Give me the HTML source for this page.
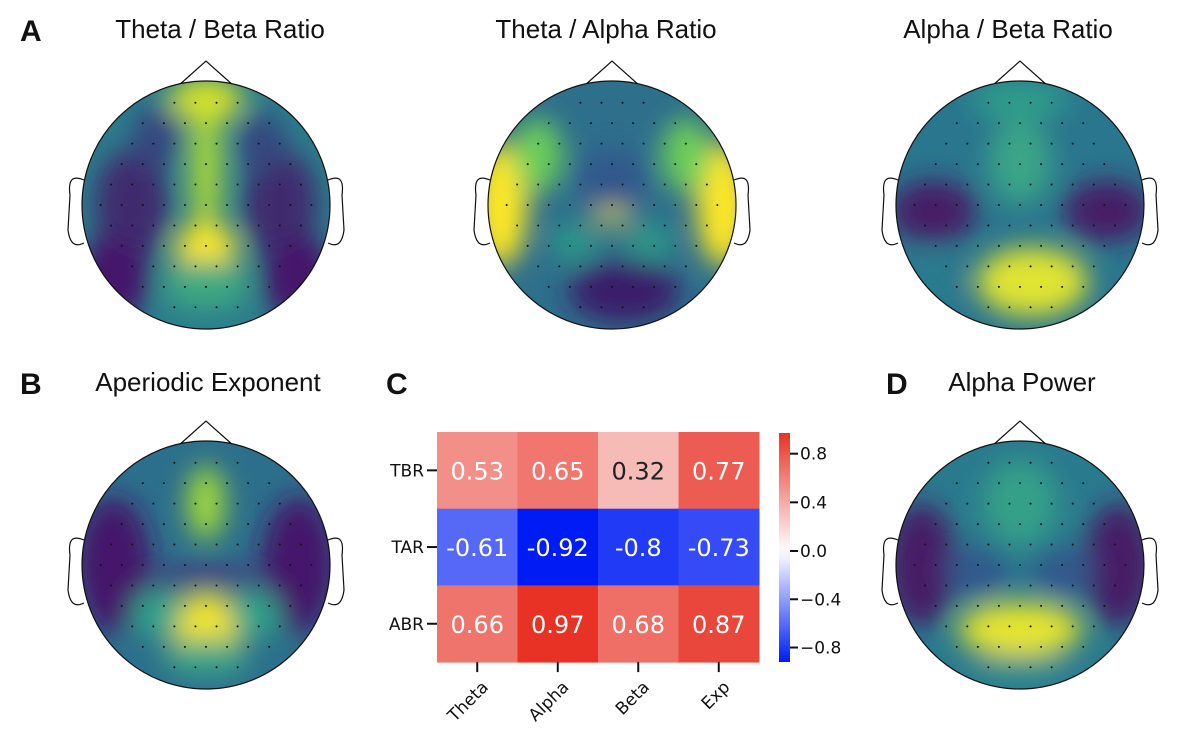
<!DOCTYPE html>
<html><head><meta charset="utf-8">
<style>
body{margin:0;background:#fff;width:1200px;height:735px;overflow:hidden;font-family:"Liberation Sans","DejaVu Sans",sans-serif}
.lbl{position:absolute;font-weight:bold;font-size:30px;color:#111}
.ttl{position:absolute;font-size:26px;color:#111;white-space:nowrap;transform:translateX(-50%)}
svg{position:absolute;left:0;top:0}
</style></head><body>
<div class="lbl" style="left:20px;top:15px">A</div>
<div class="ttl" style="left:220px;top:14px">Theta / Beta Ratio</div>
<div class="ttl" style="left:606px;top:14px">Theta / Alpha Ratio</div>
<div class="ttl" style="left:1008px;top:14px">Alpha / Beta Ratio</div>
<div class="lbl" style="left:20px;top:368px">B</div>
<div class="ttl" style="left:208px;top:367px">Aperiodic Exponent</div>
<div class="lbl" style="left:386px;top:368px">C</div>
<div class="lbl" style="left:886px;top:368px">D</div>
<div class="ttl" style="left:1022px;top:367px">Alpha Power</div>
<svg id="s" width="1200" height="735">
<defs><filter id="bl" x="-50%" y="-50%" width="200%" height="200%"><feGaussianBlur stdDeviation="13"/></filter></defs>
</svg>
<script>
const rowLabels=["TBR","TAR","ABR"];
const colLabels=["Theta","Alpha","Beta","Exp"];
const rowTBR=[0.53,0.65,0.32,0.77];
const rowTAR=[-0.61,-0.92,-0.8,-0.73];
const rowABR=[0.66,0.97,0.68,0.87];
const cbTicks=[0.8,0.4,0.0,-0.4,-0.8];
const vmin=-0.92, vmax=0.97;
const NS="http://www.w3.org/2000/svg";
const s=document.getElementById('s');
function mk(tag,attrs,parent){const e=document.createElementNS(NS,tag);for(const k in attrs)e.setAttribute(k,attrs[k]);(parent||s).appendChild(e);return e;}
const heads=[
 {name:'tbr',cx:206,cy:205,base:'#2b7d8c',blobs:[[-0.6,0,0.3,0.45,'#3f2a6e'],[0.6,0,0.3,0.45,'#3f2a6e'],[-0.75,0.6,0.3,0.35,'#44196a'],[0.75,0.6,0.3,0.35,'#44196a'],[-0.4,-0.55,0.2,0.25,'#35477f'],[0.45,-0.5,0.2,0.25,'#35477f'],[0,-0.3,0.12,0.6,'#b0dd35'],[0,-0.85,0.3,0.18,'#d5e22a'],[0,0.35,0.25,0.2,'#fde725'],[0,0.65,0.35,0.2,'#3da882']]},
 {name:'tar',cx:612,cy:205,base:'#2e6f8c',blobs:[[-0.9,0,0.22,0.5,'#fde725'],[0.9,0,0.22,0.5,'#fde725'],[-0.6,-0.4,0.2,0.3,'#6ccd5a'],[0.6,-0.4,0.2,0.3,'#6ccd5a'],[0,0.05,0.14,0.09,'#fde725'],[0.1,0.7,0.45,0.25,'#3b1f6a'],[0,-0.2,0.3,0.25,'#33598c'],[-0.3,0.3,0.2,0.15,'#2a9a88'],[0.3,0.3,0.2,0.15,'#2a9a88']]},
 {name:'abr',cx:1020,cy:205,base:'#2a768e',blobs:[[-0.7,0.05,0.35,0.25,'#471c66'],[0.7,0.05,0.35,0.25,'#471c66'],[0.1,0.62,0.45,0.28,'#e0e430'],[0,-0.35,0.25,0.35,'#3aa587'],[-0.7,0.6,0.2,0.2,'#2b7c8e'],[0,-0.85,0.4,0.15,'#2f9e8a']]},
 {name:'exponent',cx:206,cy:565,base:'#2c6f8c',blobs:[[-0.75,0,0.3,0.55,'#44196a'],[0.75,0,0.3,0.55,'#44196a'],[0,0.1,0.5,0.08,'#46327a'],[0,-0.5,0.15,0.3,'#a3da3a'],[0,0.48,0.3,0.25,'#f1e42a'],[0,0.75,0.35,0.15,'#3aa587'],[-0.4,0.4,0.2,0.2,'#2fa38a'],[0.4,0.4,0.2,0.2,'#2fa38a']]},
 {name:'alpha-power',cx:1020,cy:565,base:'#2a7a8e',blobs:[[-0.8,0,0.28,0.5,'#471c66'],[0.8,0,0.28,0.5,'#471c66'],[-0.35,0.05,0.25,0.2,'#31598c'],[0.35,0.05,0.25,0.2,'#31598c'],[0,0.52,0.5,0.22,'#e6e52e'],[0,-0.5,0.3,0.35,'#36a088'],[0,0.85,0.4,0.12,'#2c8a8c']]}
];
const dots=[];
for(let i=-5;i<=5;i++)for(let j=-5;j<=5;j++){const x=j*0.17+(i%2?0.085:0),y=i*0.165;if(x*x+y*y<0.82)dots.push([x,y]);}
heads.forEach((h,k)=>{
 const R=124;
 const g=mk('g',{});
 const cp=mk('clipPath',{id:'c'+k},g);mk('circle',{cx:h.cx,cy:h.cy,r:R},cp);
 mk('path',{d:`M${h.cx-28} ${h.cy-R+5} L${h.cx} ${h.cy-R-20} L${h.cx+28} ${h.cy-R+5}`,fill:'none',stroke:'#111','stroke-width':1.2},g);
 mk('path',{d:`M${h.cx-R+2} ${h.cy-25} C${h.cx-R-10} ${h.cy-30},${h.cx-R-14} ${h.cy-25},${h.cx-R-12} ${h.cy-10} L${h.cx-R-14} ${h.cy+25} C${h.cx-R-12} ${h.cy+40},${h.cx-R-6} ${h.cy+42},${h.cx-R+2} ${h.cy+38}`,fill:'none',stroke:'#111','stroke-width':1.2},g);
 mk('path',{d:`M${h.cx+R-2} ${h.cy-25} C${h.cx+R+10} ${h.cy-30},${h.cx+R+14} ${h.cy-25},${h.cx+R+12} ${h.cy-10} L${h.cx+R+14} ${h.cy+25} C${h.cx+R+12} ${h.cy+40},${h.cx+R+6} ${h.cy+42},${h.cx+R-2} ${h.cy+38}`,fill:'none',stroke:'#111','stroke-width':1.2},g);
 const inner=mk('g',{'clip-path':`url(#c${k})`},g);
 mk('rect',{x:h.cx-R,y:h.cy-R,width:2*R,height:2*R,fill:h.base},inner);
 const bg=mk('g',{filter:'url(#bl)'},inner);
 h.blobs.forEach(b=>mk('ellipse',{cx:h.cx+b[0]*R,cy:h.cy+b[1]*R,rx:b[2]*R,ry:b[3]*R,fill:b[4]},bg));
 dots.forEach(d=>mk('circle',{cx:h.cx+d[0]*R,cy:h.cy+d[1]*R,r:1,fill:'#111'},inner));
 mk('circle',{cx:h.cx,cy:h.cy,r:R,fill:'none',stroke:'#111','stroke-width':1.2},g);
});
const X0=437,Y0=432,CW=80.5,CH=76.7;
const xPos=i=>X0+i*CW, yPos=j=>Y0+j*CH;
const cbTop=433,cbBot=662,cbZero=551;
const cbScale=v=>v>=0?cbZero-(cbZero-cbTop)*v/vmax:cbZero+(cbBot-cbZero)*(-v)/(-vmin);
function col(v){const t=v>=0?v/vmax:-v/(-vmin);const e=v>=0?[232,50,38]:[0,28,245];const c=[0,1,2].map(i=>Math.round(255+(e[i]-255)*t));return `rgb(${c})`;}
const rows=[rowTBR,rowTAR,rowABR];
const hm=mk('g',{});
rows.forEach((r,j)=>r.forEach((v,i)=>{
 const c=mk('rect',{x:xPos(i),y:yPos(j),width:CW+0.5,height:CH+0.5,fill:col(v)},hm);
 
 
 const t=mk('text',{x:xPos(i)+CW/2,y:yPos(j)+CH/2+9,'text-anchor':'middle','font-size':24,'font-family':'DejaVu Sans,sans-serif',fill:Math.abs(v)<0.4?'#222':'#fff'},hm);
 t.textContent=String(v);
 
 
}));
rowLabels.forEach((l,j)=>{
 const y=yPos(j)+CH/2;
 mk('line',{x1:X0-10,x2:X0,y1:y,y2:y,stroke:'#111','stroke-width':2},hm);
 const t=mk('text',{x:X0-13,y:y+6,'text-anchor':'end','font-size':17,'font-family':'DejaVu Sans,sans-serif',fill:'#111'},hm);
 t.textContent=l;
 
 
});
colLabels.forEach((l,i)=>{
 const x=xPos(i)+CW/2;
 mk('line',{x1:x,x2:x,y1:Y0+3*CH,y2:Y0+3*CH+10,stroke:'#111','stroke-width':2},hm);
 const t=mk('text',{x:x+12,y:Y0+3*CH+26,'text-anchor':'end','font-size':17,'font-family':'DejaVu Sans,sans-serif',fill:'#111',transform:`rotate(-45 ${x+12} ${Y0+3*CH+26})`},hm);
 t.textContent=l;
 
 
});
const cb=mk('g',{});
const lg=mk('linearGradient',{id:'cbg',x1:0,y1:0,x2:0,y2:1},cb);
for(let k=0;k<=20;k++){const v=vmax-(vmax-vmin)*k/20;const y=cbScale(v);mk('stop',{offset:((y-cbTop)/(cbBot-cbTop)).toFixed(3),'stop-color':col(v)},lg);}
mk('rect',{x:779,y:cbTop,width:11,height:cbBot-cbTop,fill:'url(#cbg)'},cb);
cbTicks.forEach(v=>{
 const y=cbScale(v);
 mk('line',{x1:790,x2:798,y1:y,y2:y,stroke:'#111','stroke-width':2},cb);
 const t=mk('text',{x:800,y:y+6,'font-size':17,'font-family':'DejaVu Sans,sans-serif',fill:'#111'},cb);
 t.textContent=v<0?'\u2212'+Math.abs(v).toFixed(1):v.toFixed(1);
 
 
});
</script>
</body></html>
